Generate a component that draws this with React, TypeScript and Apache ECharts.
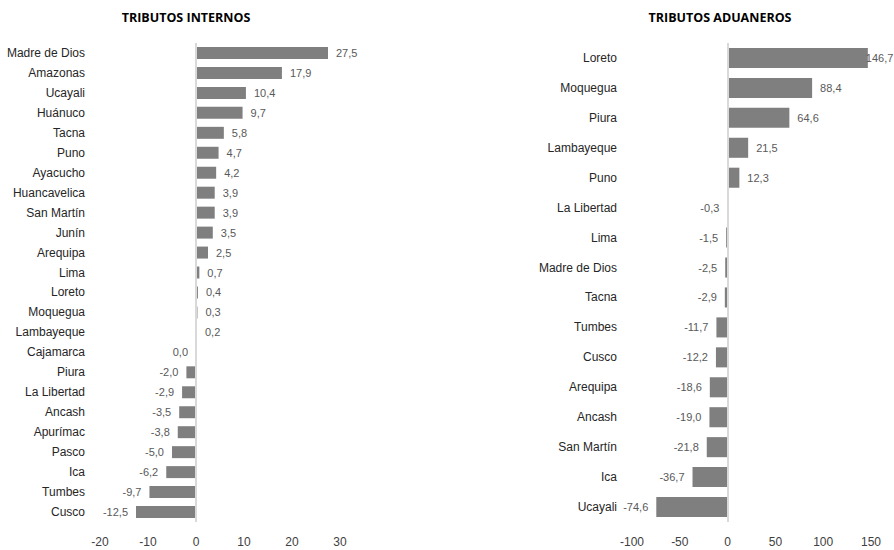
import React, { useEffect, useRef } from "react";
import * as echarts from "echarts";

const internosCategories = [
  "Madre de Dios", "Amazonas", "Ucayali", "Huánuco", "Tacna", "Puno", "Ayacucho",
  "Huancavelica", "San Martín", "Junín", "Arequipa", "Lima", "Loreto", "Moquegua",
  "Lambayeque", "Cajamarca", "Piura", "La Libertad", "Ancash", "Apurímac", "Pasco",
  "Ica", "Tumbes", "Cusco",
];
const internosValues = [
  27.5, 17.9, 10.4, 9.7, 5.8, 4.7, 4.2, 3.9, 3.9, 3.5, 2.5, 0.7, 0.4, 0.3, 0.2, 0.0,
  -2.0, -2.9, -3.5, -3.8, -5.0, -6.2, -9.7, -12.5,
];

const aduanerosCategories = [
  "Loreto", "Moquegua", "Piura", "Lambayeque", "Puno", "La Libertad", "Lima",
  "Madre de Dios", "Tacna", "Tumbes", "Cusco", "Arequipa", "Ancash", "San Martín",
  "Ica", "Ucayali",
];
const aduanerosValues = [
  146.7, 88.4, 64.6, 21.5, 12.3, -0.3, -1.5, -2.5, -2.9, -11.7, -12.2, -18.6, -19.0,
  -21.8, -36.7, -74.6,
];

const titles = ["TRIBUTOS INTERNOS", "TRIBUTOS ADUANEROS"];

const FONT = "'Liberation Sans', Arial, sans-serif";
const fmt = (v: number) => v.toFixed(1).replace(".", ",");

function buildData(values: number[], tightFirst: boolean) {
  return values.map((v, i) => ({
    value: v,
    label: {
      position: v > 0 ? "right" : "left",
      distance: tightFirst && i === 0 ? -2 : 8,
    },
  }));
}

export default function App() {
  const ref = useRef<HTMLDivElement>(null);
  useEffect(() => {
    if (!ref.current) return;
    const chart = echarts.init(ref.current, null, { renderer: "svg" });
    const xAxisCommon = {
      type: "value",
      axisLine: { show: false },
      axisTick: { show: false },
      splitLine: { show: false },
      axisLabel: { color: "#404040", fontFamily: FONT, fontSize: 12, margin: 14 },
    };
    const yAxisCommon = {
      type: "category",
      inverse: true,
      axisLine: { show: false, onZero: false },
      axisTick: { show: false },
      axisLabel: { color: "#262626", fontFamily: FONT, fontSize: 12, margin: 15 },
    };
    const seriesCommon = {
      type: "bar",
      itemStyle: { color: "#7f7f7f" },
      label: {
        show: true,
        color: "#595959",
        fontFamily: FONT,
        fontSize: 11,
        formatter: (p: any) => fmt(p.value),
      },
      markLine: {
        silent: true,
        symbol: "none",
        label: { show: false },
        lineStyle: { color: "#d9d9d9", width: 2, type: "solid" },
        data: [{ xAxis: 0 }],
      },
    };
    const titleStyle = {
      fontFamily: "'Open Sans', sans-serif",
      fontWeight: "bold",
      fontSize: 12.5,
      color: "#000",
    };
    chart.setOption({
      animation: false,
      backgroundColor: "#ffffff",
      title: [
        { text: titles[0], left: 181, top: 6, textAlign: "center", textStyle: titleStyle },
        { text: titles[1], left: 715, top: 6, textAlign: "center", textStyle: titleStyle },
      ],
      grid: [
        { left: 100, width: 240, top: 43, height: 479, outerBoundsMode: "none", containLabel: false },
        { left: 632, width: 239, top: 43, height: 479, outerBoundsMode: "none", containLabel: false },
      ],
      xAxis: [
        { ...xAxisCommon, gridIndex: 0, min: -20, max: 30, interval: 10 },
        { ...xAxisCommon, gridIndex: 1, min: -100, max: 150, interval: 50 },
      ],
      yAxis: [
        { ...yAxisCommon, gridIndex: 0, data: internosCategories },
        { ...yAxisCommon, gridIndex: 1, data: aduanerosCategories },
      ],
      series: [
        {
          ...seriesCommon,
          xAxisIndex: 0,
          yAxisIndex: 0,
          barCategoryGap: "40%",
          data: buildData(internosValues, false),
        },
        {
          ...seriesCommon,
          xAxisIndex: 1,
          yAxisIndex: 1,
          barCategoryGap: "33%",
          data: buildData(aduanerosValues, true),
        },
      ],
    });
    return () => chart.dispose();
  }, []);
  return (
    <div
      ref={ref}
      style={{ position: "absolute", left: 0, top: 0, width: 894, height: 550 }}
    />
  );
}
